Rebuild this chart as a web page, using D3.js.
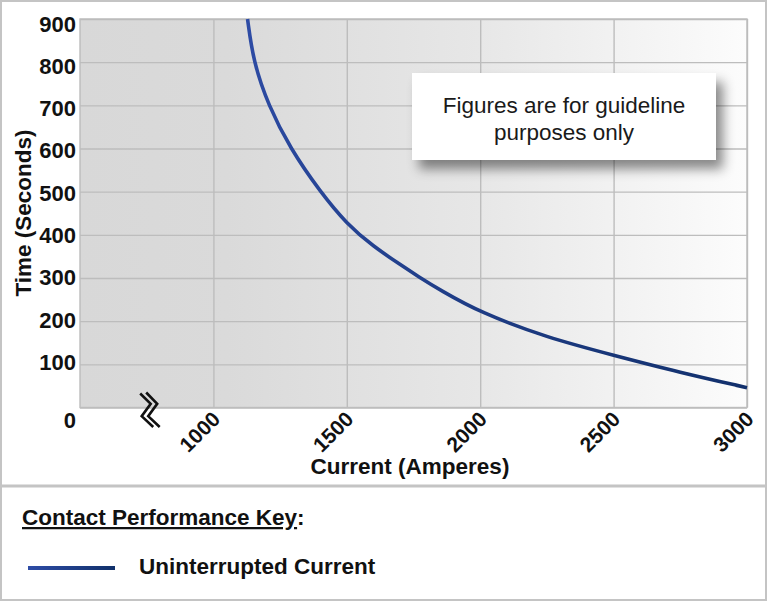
<!DOCTYPE html>
<html>
<head>
<meta charset="utf-8">
<script src="https://cdn.jsdelivr.net/npm/d3@7"></script>
<style>
  body { margin: 0; background: #fff; }
  text { font-family: "Liberation Sans", Arial, sans-serif; fill: #111; }
</style>
</head>
<body>
<div id="chart"></div>
<script>
// Data
const current = [1128, 1150, 1206, 1288, 1400, 1500, 1600, 1700, 1769, 1850, 2000, 2250, 2500, 2750, 3000];
const timeSec = [900, 800, 700, 600, 500, 425, 373, 331, 303, 272, 220, 162, 121, 81, 46];
const xTicks = [1000, 1500, 2000, 2500, 3000];
const yTicks = [0, 100, 200, 300, 400, 500, 600, 700, 800, 900];
const seriesName = "Uninterrupted Current";

const W = 768, H = 603;
const plot = { left: 80, top: 19, right: 747, bottom: 407.5 };

const svg = d3.select("#chart")
    .append("svg")
    .attr("width", W)
    .attr("height", H);

const defs = svg.append("defs");

// background gradient of the plot area
const bg = defs.append("linearGradient").attr("id", "bg")
    .attr("x1", "0%").attr("x2", "100%").attr("y1", "0%").attr("y2", "0%");
bg.append("stop").attr("offset", "0%").attr("stop-color", "#d8d8d8");
bg.append("stop").attr("offset", "22%").attr("stop-color", "#dadada");
bg.append("stop").attr("offset", "60%").attr("stop-color", "#e7e7e7");
bg.append("stop").attr("offset", "100%").attr("stop-color", "#fcfcfc");

// line colour gradient
const lg = defs.append("linearGradient").attr("id", "lineGrad")
    .attr("gradientUnits", "userSpaceOnUse")
    .attr("x1", 240).attr("y1", 19).attr("x2", 747).attr("y2", 390);
lg.append("stop").attr("offset", "0%").attr("stop-color", "#2e4ca6");
lg.append("stop").attr("offset", "100%").attr("stop-color", "#12306c");

const keyGrad = defs.append("linearGradient").attr("id", "keyGrad")
    .attr("gradientUnits", "userSpaceOnUse")
    .attr("x1", 28).attr("y1", 0).attr("x2", 115).attr("y2", 0);
keyGrad.append("stop").attr("offset", "0%").attr("stop-color", "#2e4ca6");
keyGrad.append("stop").attr("offset", "100%").attr("stop-color", "#10306a");

// drop shadow for the note box
const f = defs.append("filter").attr("id", "shadow")
    .attr("x", "-10%").attr("y", "-20%").attr("width", "130%").attr("height", "160%");
f.append("feDropShadow").attr("dx", 7).attr("dy", 9).attr("stdDeviation", 6)
    .attr("flood-color", "#000").attr("flood-opacity", 0.45);

// outer frame
svg.append("rect")
    .attr("x", 1).attr("y", 1).attr("width", W - 3).attr("height", 599)
    .attr("fill", "none").attr("stroke", "#c4c4c4").attr("stroke-width", 2);
svg.append("line")
    .attr("x1", 1).attr("x2", W - 2).attr("y1", 486).attr("y2", 486)
    .attr("stroke", "#c4c4c4").attr("stroke-width", 3);

// Scales
const x = d3.scaleLinear()
    .domain([500, 3000])
    .range([plot.left, plot.right]);

const y = d3.scaleLinear()
    .domain([0, 900])
    .range([plot.bottom, plot.top]);

// label positions for y ticks (labels in the picture drift slightly from the grid)
const yLab = d3.scaleLinear().domain([100, 900]).range([362, 23.7]);

// plot background
svg.append("rect")
    .attr("x", plot.left).attr("y", plot.top)
    .attr("width", plot.right - plot.left)
    .attr("height", plot.bottom - plot.top)
    .attr("fill", "url(#bg)");

// Gridlines
svg.append("g")
    .attr("class", "grid")
    .attr("transform", `translate(${plot.left},0)`)
    .call(d3.axisLeft(y).tickValues(yTicks).tickSize(-(plot.right - plot.left)).tickFormat(""))
    .call(g => g.select(".domain").remove());

svg.append("g")
    .attr("class", "grid")
    .attr("transform", `translate(0,${plot.bottom})`)
    .call(d3.axisBottom(x).tickValues(xTicks).tickSize(-(plot.bottom - plot.top)).tickFormat(""))
    .call(g => g.select(".domain").remove());

svg.selectAll(".grid line")
    .attr("stroke", "#bdbdbd")
    .attr("stroke-width", 1.4);

// plot border
svg.append("rect")
    .attr("x", plot.left).attr("y", plot.top)
    .attr("width", plot.right - plot.left)
    .attr("height", plot.bottom - plot.top)
    .attr("fill", "none")
    .attr("stroke", "#bdbdbd")
    .attr("stroke-width", 1.4);

// Curve
const pts = current.map((c, i) => ({ c: c, t: timeSec[i] }));
const line = d3.line()
    .x(d => x(d.c))
    .y(d => y(d.t))
    .curve(d3.curveBasis);

svg.append("path")
    .datum(pts)
    .attr("fill", "none")
    .attr("stroke", "url(#lineGrad)")
    .attr("stroke-width", 3.6)
    .attr("d", line);

// Note box
const note = svg.append("g");
note.append("rect")
    .attr("x", 412).attr("y", 73).attr("width", 304).attr("height", 87)
    .attr("fill", "#fff")
    .attr("filter", "url(#shadow)");
note.append("text")
    .attr("x", 564).attr("y", 113)
    .attr("text-anchor", "middle")
    .style("font-size", "22.5px")
    .style("fill", "#1a1a1a")
    .text("Figures are for guideline");
note.append("text")
    .attr("x", 564).attr("y", 140)
    .attr("text-anchor", "middle")
    .style("font-size", "22.5px")
    .style("fill", "#1a1a1a")
    .text("purposes only");

// Y tick labels
svg.append("g")
    .selectAll("text")
    .data(yTicks)
    .enter()
    .append("text")
    .attr("x", plot.left - 4)
    .attr("y", d => d === 0 ? y(0) + 13 : yLab(d))
    .attr("dy", "0.36em")
    .attr("text-anchor", "end")
    .style("font-size", "22px")
    .style("font-weight", "bold")
    .text(d => d);

// X tick labels (rotated)
svg.append("g")
    .selectAll("text")
    .data(xTicks)
    .enter()
    .append("text")
    .attr("transform", d => `translate(${x(d) + 8},${plot.bottom + 13}) rotate(-45)`)
    .attr("text-anchor", "end")
    .style("font-size", "21px")
    .style("font-weight", "bold")
    .text(d => d);

// axis break symbol
const brk = svg.append("g")
    .attr("transform", `translate(${x(750)},${plot.bottom})`)
    .attr("fill", "none")
    .attr("stroke", "#111")
    .attr("stroke-width", 2.6);
brk.append("path").attr("d", "M-6.5,-14 L4,-3.7 L-5,8.7 L6.5,19.5");
brk.append("path").attr("d", "M-0.5,-15 L10.5,-3.7 L1.5,8.7 L13,19.5");

// Axis titles
svg.append("text")
    .attr("x", 410)
    .attr("y", 474)
    .attr("text-anchor", "middle")
    .style("font-size", "22.5px")
    .style("font-weight", "bold")
    .text("Current (Amperes)");

svg.append("text")
    .attr("transform", "translate(31,213) rotate(-90)")
    .attr("text-anchor", "middle")
    .style("font-size", "22.5px")
    .style("font-weight", "bold")
    .text("Time (Seconds)");

// Key
const key = svg.append("text")
    .attr("x", 22).attr("y", 525)
    .style("font-size", "22.5px")
    .style("font-weight", "bold");
key.append("tspan").style("text-decoration", "underline").text("Contact Performance Key");
key.append("tspan").text(":");

svg.append("line")
    .attr("x1", 28).attr("x2", 115)
    .attr("y1", 568).attr("y2", 568)
    .attr("stroke", "url(#keyGrad)")
    .attr("stroke-width", 4);

svg.append("text")
    .attr("x", 139).attr("y", 574)
    .style("font-size", "22.5px")
    .style("font-weight", "bold")
    .text(seriesName);
</script>
</body>
</html>
